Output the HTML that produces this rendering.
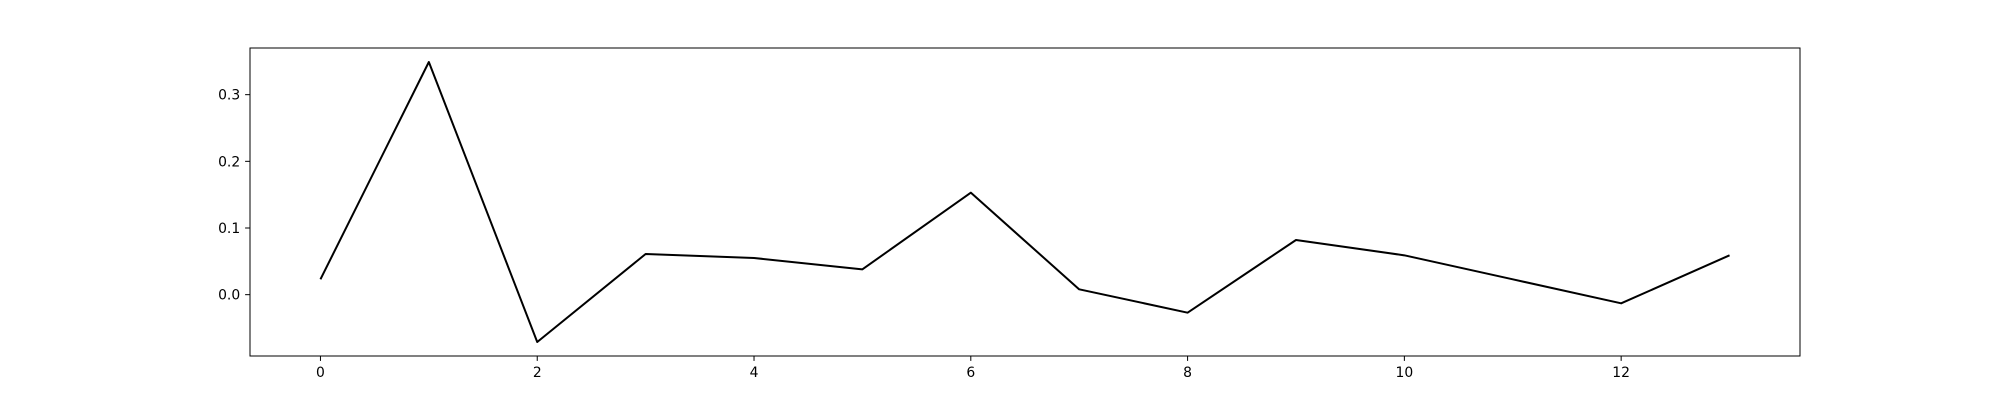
<!DOCTYPE html>
<html><head><meta charset="utf-8"><style>
html,body{margin:0;padding:0;background:#fff;}
svg text{font-family:"DejaVu Sans","Liberation Sans",sans-serif;font-size:13.9px;fill:#000;}
</style></head><body>
<svg id="chart" width="2000" height="400" viewBox="0 0 2000 400" xmlns="http://www.w3.org/2000/svg">
<rect width="2000" height="400" fill="#fff"/>
<g id="plot"></g>
</svg>
<script>
const xValues = [0,1,2,3,4,5,6,7,8,9,10,11,12,13];
const yValues = [0.023,0.349,-0.071,0.061,0.055,0.038,0.153,0.008,-0.027,0.082,0.059,0.023,-0.013,0.059];
const xTicks = [0,2,4,6,8,10,12];
const yTicks = [0.0,0.1,0.2,0.3];
const yTickLabels = ["0.0","0.1","0.2","0.3"];

const L=250,R=1800,T=48,B=356;
const NS="http://www.w3.org/2000/svg";
const xmin0=Math.min(...xValues),xmax0=Math.max(...xValues);
const ymin0=Math.min(...yValues),ymax0=Math.max(...yValues);
const xm=(xmax0-xmin0)*0.05, ym=(ymax0-ymin0)*0.05;
const xlo=xmin0-xm,xhi=xmax0+xm,ylo=ymin0-ym,yhi=ymax0+ym;
function sx(v){return L+(v-xlo)/(xhi-xlo)*(R-L);}
function sy(v){return B-(v-ylo)/(yhi-ylo)*(B-T);}
const g=document.getElementById('plot');
function mk(tag,attrs){const e=document.createElementNS(NS,tag);for(const k in attrs)e.setAttribute(k,attrs[k]);g.appendChild(e);return e;}

const line=mk('polyline',{points:xValues.map((x,i)=>sx(x)+','+sy(yValues[i])).join(' '),fill:'none',stroke:'#000','stroke-width':2,'stroke-linejoin':'round'});



const frame=mk('rect',{x:L,y:T,width:R-L,height:B-T,fill:'none',stroke:'#000','stroke-width':1});



xTicks.forEach(t=>{
  const x=sx(t);
  const tk=mk('line',{x1:x,x2:x,y1:B,y2:B+4.9,stroke:'#000','stroke-width':1});
  
  
  const lb=mk('text',{x:x,y:B+9.8+11,'text-anchor':'middle'});
  lb.textContent=String(t);
  
  
});
yTicks.forEach((t,i)=>{
  const y=sy(t);
  const tk=mk('line',{x1:L-4.9,x2:L,y1:y,y2:y,stroke:'#000','stroke-width':1});
  
  
  const lb=mk('text',{x:L-9.8,y:y+5,'text-anchor':'end'});
  lb.textContent=yTickLabels[i];
  
  
});
</script>
</body></html>
